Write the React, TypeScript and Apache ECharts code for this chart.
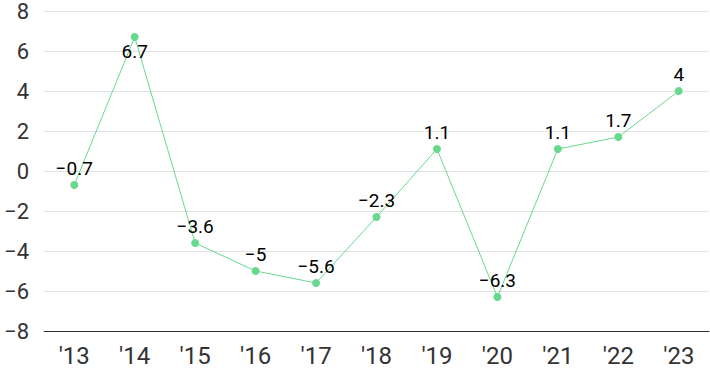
import React, { useEffect, useRef } from "react";
import * as echarts from "echarts";

const categories = ["'13", "'14", "'15", "'16", "'17", "'18", "'19", "'20", "'21", "'22", "'23"];
const values = [-0.7, 6.7, -3.6, -5, -5.6, -2.3, 1.1, -6.3, 1.1, 1.7, 4];
const yTicks = { min: -8, max: 8, interval: 2 };

const fmt = (v: number) => String(v).replace("-", "\u2212");

export default function App() {
  const ref = useRef<HTMLDivElement>(null);
  useEffect(() => {
    const chart = echarts.init(ref.current!, null, { renderer: "svg" });
    chart.setOption({
      animation: false,
      grid: { left: 44, right: 1, top: 7, bottom: 40 },
      xAxis: {
        type: "category",
        data: categories,
        boundaryGap: true,
        axisLine: { onZero: false, lineStyle: { color: "#333", width: 1 } },
        axisTick: { show: false },
        axisLabel: { color: "#333", fontSize: 24, fontFamily: "Roboto", margin: 13 },
      },
      yAxis: {
        type: "value",
        min: yTicks.min,
        max: yTicks.max,
        interval: yTicks.interval,
        axisLine: { show: false },
        axisTick: { show: false },
        splitLine: { lineStyle: { color: "#e3e3e3", width: 1 } },
        axisLabel: {
          color: "#333",
          fontSize: 22,
          fontFamily: "Roboto",
          margin: 15,
          formatter: (v: number) => fmt(v),
        },
      },
      series: [
        {
          type: "line",
          data: values.map((v, i) =>
            i === 1 ? { value: v, label: { position: "bottom", distance: 1 } } : v
          ),
          symbol: "circle",
          symbolSize: 8,
          lineStyle: { color: "#66d98f", width: 1 },
          itemStyle: { color: "#66d98f" },
          label: {
            show: true,
            position: "top",
            distance: 3,
            color: "#000",
            fontSize: 19,
            fontFamily: "Roboto",
            formatter: (p: any) => fmt(p.value),
          },
        },
      ],
    });
    return () => chart.dispose();
  }, []);
  return <div ref={ref} style={{ width: 710, height: 371, position: "absolute", left: 0, top: 0 }} />;
}
